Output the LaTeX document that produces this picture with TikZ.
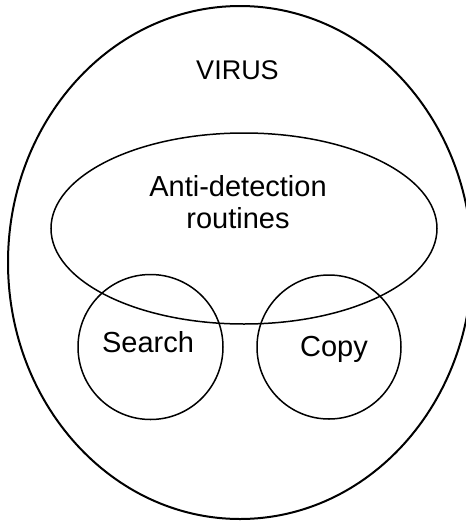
\documentclass[tikz,border=0pt]{standalone}
\usepackage{fontspec}
\setmainfont{Liberation Sans}
\usetikzlibrary{shapes.geometric}
\begin{document}
\begin{tikzpicture}[x=1pt,y=-1pt,
  outerline/.style={draw=black,line width=2pt},
  innerline/.style={draw=black,line width=1.5pt},
  lbl/.style={anchor=base,inner sep=0pt,font=\fontsize{29}{33}\selectfont}]
\useasboundingbox (0,0) rectangle (466,523);
\draw[outerline] (240,262.5) ellipse [x radius=232, y radius=256.5];
\draw[innerline] (244,228.5) ellipse [x radius=193, y radius=95.5];
\draw[innerline] (150.5,347) circle [radius=72.5];
\draw[innerline] (329,347) circle [radius=72];
\node[lbl,font=\fontsize{27}{32}\selectfont] (virus) at (237.5,79) {VIRUS};
\node[lbl] (anti) at (238,196) {Anti-detection};
\node[lbl] (rout) at (238,228) {routines};
\node[lbl] (search) at (148,352) {Search};
\node[lbl] (copy) at (334,356) {Copy};
\end{tikzpicture}
\end{document}
